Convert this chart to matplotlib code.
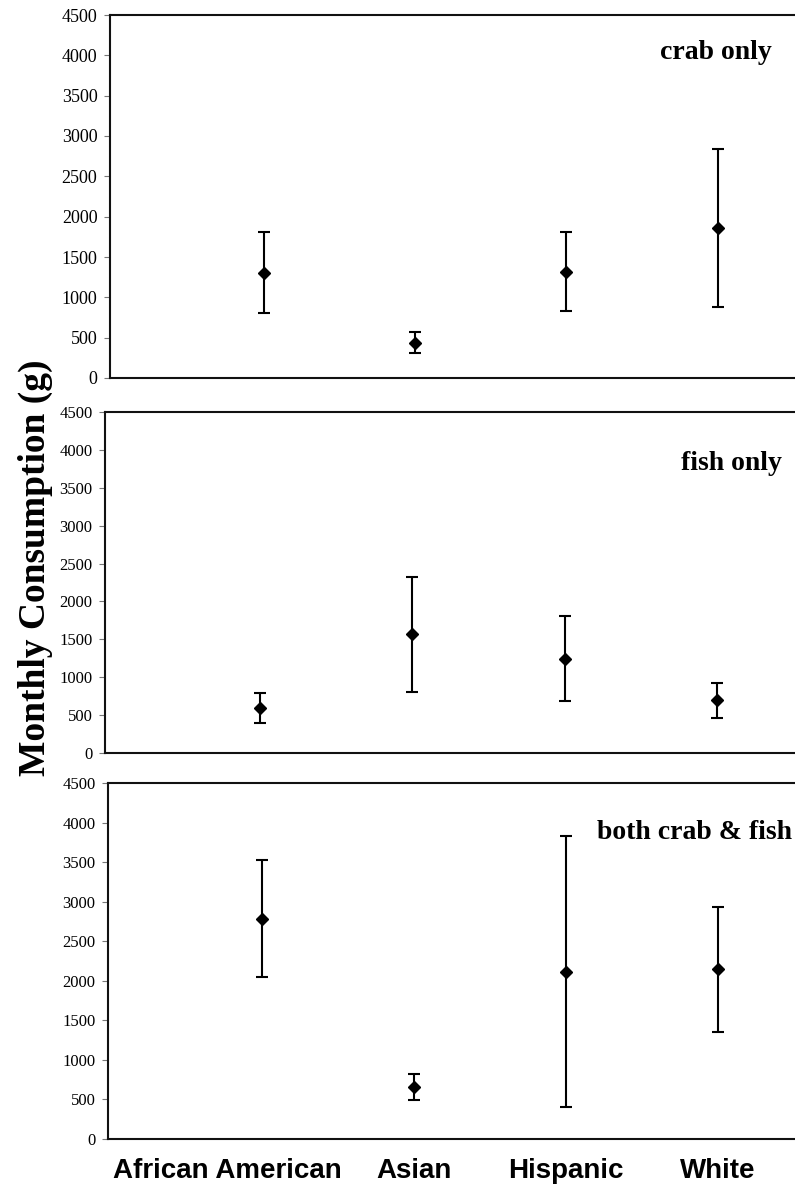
import matplotlib
matplotlib.use("Agg")
import matplotlib.pyplot as plt
import matplotlib.transforms as mtransforms
import numpy as np

categories = ["African American", "Asian", "Hispanic", "White"]
panel_titles = ["crab only", "fish only", "both crab & fish"]

# mean, lower bound, upper bound (g per month)
crab_mean = [1305, 438, 1318, 1863]
crab_low = [802, 314, 831, 884]
crab_high = [1814, 566, 1814, 2839]

fish_mean = [594, 1566, 1246, 695]
fish_low = [396, 801, 682, 467]
fish_high = [797, 2322, 1808, 929]

both_mean = [2783, 654, 2109, 2147]
both_low = [2054, 493, 401, 1358]
both_high = [3530, 818, 3825, 2927]

yticks = [0, 500, 1000, 1500, 2000, 2500, 3000, 3500, 4000, 4500]

serif = ["Liberation Serif", "DejaVu Serif"]
sans = ["Liberation Sans", "DejaVu Sans"]

W, H = 795, 1187
fig = plt.figure(figsize=(W / 100, H / 100), dpi=100)

# panel boxes in pixels: left, top, bottom
boxes = [(110, 15, 378), (105, 412, 753), (108, 783, 1139)]
title_pos = [(0.966, 0.898), (0.981, 0.850), (0.996, 0.860)]
tick_sizes = [13, 12, 12]

data = [(crab_mean, crab_low, crab_high),
        (fish_mean, fish_low, fish_high),
        (both_mean, both_low, both_high)]

x = np.arange(1, len(categories) + 1)

for i, ((l, t, b), (m, lo, hi)) in enumerate(zip(boxes, data)):
    ax = fig.add_axes([l / W, (H - b) / H, (W - l) / W, (b - t) / H])
    m = np.array(m); lo = np.array(lo); hi = np.array(hi)
    ax.errorbar(x, m, yerr=[m - lo, hi - m], fmt="D", color="black",
                markersize=6.5, ecolor="black", elinewidth=1.5,
                capsize=4, capthick=1.5)
    ax.set_xlim(-0.015, 4.51)
    ax.set_ylim(0, 4500)
    ax.set_yticks(yticks)
    ax.set_yticklabels([str(v) for v in yticks], family=serif,
                       fontsize=tick_sizes[i])
    ax.tick_params(axis="y", direction="out", length=4, width=0.8,
                   color="#777777", pad=5)
    ax.spines["right"].set_visible(False)
    for s in ["left", "top", "bottom"]:
        ax.spines[s].set_linewidth(1.5)
        ax.spines[s].set_color("#111111")
    ax.set_xticks(x)
    ax.tick_params(axis="x", length=0, pad=14)
    if i == 2:
        labs = ax.set_xticklabels(categories, family=sans,
                                  fontweight="bold", fontsize=20)
        offset = mtransforms.ScaledTranslation(-35 / 100, 0,
                                               fig.dpi_scale_trans)
        labs[0].set_transform(labs[0].get_transform() + offset)
    else:
        ax.set_xticklabels([])
    ax.text(title_pos[i][0], title_pos[i][1], panel_titles[i],
            transform=ax.transAxes, ha="right", va="center",
            family=serif, fontweight="bold", fontsize=20)

fig.text(0.044, 0.522, "Monthly Consumption (g)", rotation=90,
         ha="center", va="center", family=serif, fontweight="bold",
         fontsize=27)

fig.savefig("out.png", dpi=100)
